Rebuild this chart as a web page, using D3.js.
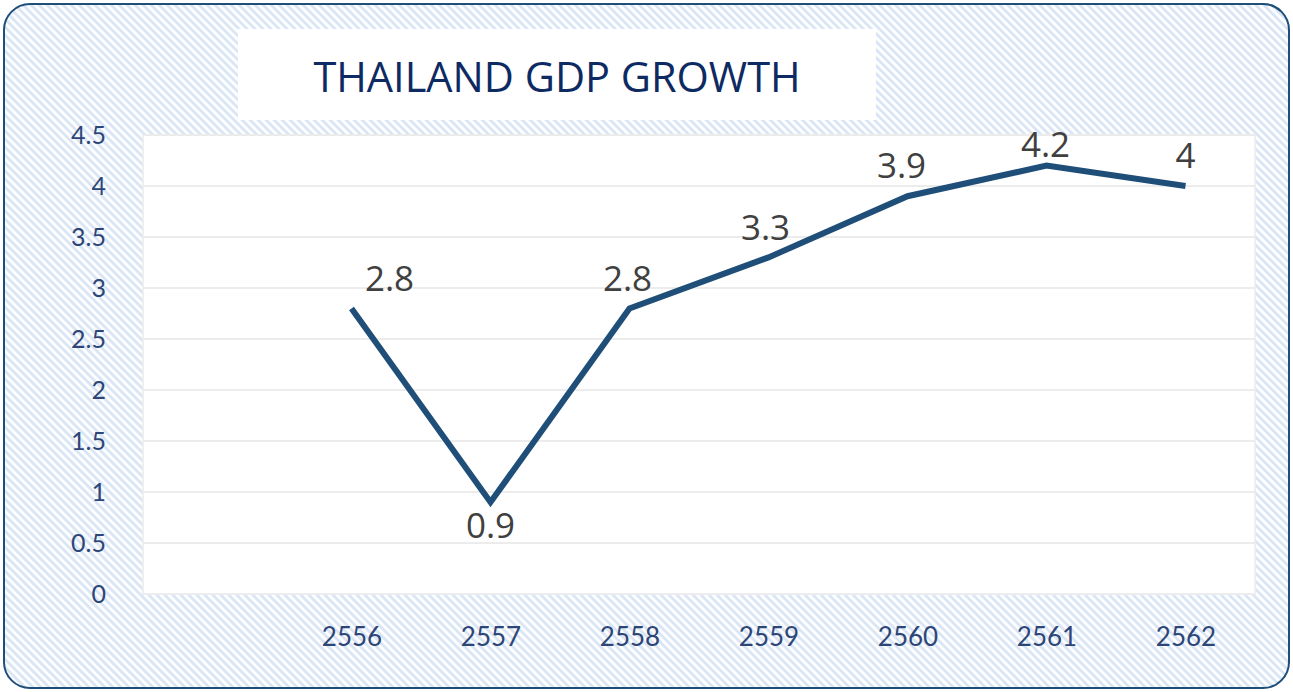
<!DOCTYPE html>
<html>
<head>
<meta charset="utf-8">
<script src="https://cdn.jsdelivr.net/npm/d3@7"></script>
<style>
  body { margin: 0; background: #fff; }
</style>
</head>
<body>
<div id="chart"></div>
<script>
// data
var years = ["", "2556", "2557", "2558", "2559", "2560", "2561", "2562"];
var growth = [null, 2.8, 0.9, 2.8, 3.3, 3.9, 4.2, 4];
var yTicks = [0, 0.5, 1, 1.5, 2, 2.5, 3, 3.5, 4, 4.5];
var title = "THAILAND GDP GROWTH";

var w = 1293, h = 692;
var plot = { left: 143, right: 1255, top: 135, bottom: 594 };

var svg = d3.select("#chart").append("svg")
    .attr("width", w)
    .attr("height", h);

// hatch background
var defs = svg.append("defs");
var pat = defs.append("pattern")
    .attr("id", "hatch")
    .attr("patternUnits", "userSpaceOnUse")
    .attr("width", 5.66)
    .attr("height", 5.66)
    .attr("patternTransform", "rotate(-45)");
pat.append("rect").attr("width", 5.66).attr("height", 5.66).attr("fill", "#fff");
pat.append("rect").attr("width", 2.9).attr("height", 5.66).attr("fill", "#dae6f5");

svg.append("rect")
    .attr("x", 4).attr("y", 4)
    .attr("width", w - 8).attr("height", h - 8)
    .attr("rx", 26)
    .attr("fill", "url(#hatch)")
    .attr("stroke", "#1f4e79")
    .attr("stroke-width", 2);

// title box
svg.append("rect")
    .attr("x", 238).attr("y", 29)
    .attr("width", 638).attr("height", 91)
    .attr("fill", "#fff");

svg.append("text")
    .attr("x", 557)
    .attr("y", 92)
    .attr("text-anchor", "middle")
    .style("font-family", "'Open Sans'")
    .style("font-size", "41.5px")
    .style("fill", "#0e2a62")
    .text(title);

// plot area
svg.append("rect")
    .attr("x", plot.left).attr("y", plot.top)
    .attr("width", plot.right - plot.left)
    .attr("height", plot.bottom - plot.top)
    .attr("fill", "#fff")
    .attr("stroke", "#ececec")
    .attr("stroke-width", 1.5);

var x = d3.scalePoint().domain(years).range([plot.left, plot.right]).padding(0.5);
var y = d3.scaleLinear().domain([0, 4.5]).range([plot.bottom, plot.top]);

// gridlines
svg.append("g")
    .selectAll("line")
    .data(yTicks)
    .enter()
    .append("line")
    .attr("x1", plot.left).attr("x2", plot.right)
    .attr("y1", function (d) { return y(d); })
    .attr("y2", function (d) { return y(d); })
    .style("stroke", "#ececec")
    .style("stroke-width", 2);

// y axis
var yAxis = svg.append("g")
    .attr("transform", "translate(" + 112 + ",0)")
    .call(d3.axisLeft(y).tickValues(yTicks).tickSize(0).tickPadding(6).tickFormat(function (d) { return String(d); }));
yAxis.select(".domain").remove();
yAxis.selectAll("text")
    .style("font-family", "Lato")
    .style("font-size", "25px")
    .style("fill", "#2d4677")
    .attr("dy", "0.35em");

// x axis
var xAxis = svg.append("g")
    .attr("transform", "translate(0," + 628 + ")")
    .call(d3.axisBottom(x).tickSize(0).tickPadding(0));
xAxis.select(".domain").remove();
xAxis.selectAll("text")
    .style("font-family", "Lato")
    .style("font-size", "26px")
    .style("fill", "#2d4677")
    .attr("dy", "0.7em");

// line
var pts = years.map(function (d, i) { return [d, growth[i]]; })
    .filter(function (d) { return d[1] !== null; });

var line = d3.line()
    .x(function (d) { return x(d[0]); })
    .y(function (d) { return y(d[1]); });

svg.append("path")
    .datum(pts)
    .attr("d", line)
    .style("fill", "none")
    .style("stroke", "#1f4e79")
    .style("stroke-width", 6)
    .style("stroke-linejoin", "miter");

// data labels
var labelOffset = {
    "2556": [38, -17],
    "2557": [0, 36],
    "2558": [-2, -17],
    "2559": [-3, -17],
    "2560": [-6, -18],
    "2561": [-1, -9],
    "2562": [0, -18]
};
svg.append("g")
    .selectAll("text")
    .data(pts)
    .enter()
    .append("text")
    .attr("x", function (d) { return x(d[0]) + labelOffset[d[0]][0]; })
    .attr("y", function (d) { return y(d[1]) + labelOffset[d[0]][1]; })
    .attr("text-anchor", "middle")
    .style("font-family", "'Open Sans'")
    .style("font-size", "35px")
    .style("fill", "#404040")
    .text(function (d) { return String(d[1]); });
</script>
</body>
</html>
